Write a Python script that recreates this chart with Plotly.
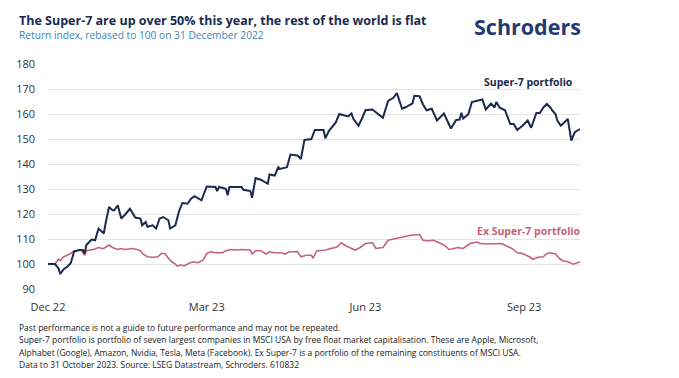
import pandas as pd
import plotly.graph_objects as go

# ---- data ----
base_date = "2022-12-30"
super7_days = [0, 4, 6, 7, 9, 11, 13, 15, 18, 20, 21, 22, 25, 27, 29, 32, 33, 35, 37, 38, 40, 42, 44, 47,
               50, 53, 54, 56, 57, 60, 62, 64, 66, 69, 70, 73, 75, 77, 80, 82, 84, 88, 91, 96, 97, 98,
               102, 103, 104, 111, 112, 116, 117, 119, 122, 126, 127, 130, 132, 133, 137, 139, 143, 145,
               147, 151, 153, 158, 159, 161, 165, 167, 172, 174, 175, 178, 180, 182, 186, 189, 192, 195,
               198, 200, 203, 205, 207, 209, 210, 213, 215, 217, 220, 223, 224, 227, 231, 234, 236, 237,
               238, 241, 243, 246, 249, 251, 254, 256, 257, 259, 262, 265, 267, 269, 272, 275, 277, 280,
               282, 284, 286, 288, 289, 291, 292, 294, 296, 298, 300, 302, 304, 305]
super7_values = [100.0, 100.0, 98.3, 96.0, 97.9, 98.9, 100.3, 105.0, 105.6, 105.6, 104.2, 107.6, 109.8,
                 109.5, 114.2, 112.2, 116.2, 122.8, 121.5, 121.5, 123.5, 118.2, 119.6, 122.1, 118.6,
                 118.2, 115.5, 116.8, 114.9, 115.5, 114.2, 118.2, 118.8, 117.5, 114.2, 115.5, 120.8,
                 124.4, 124.1, 126.1, 127.1, 125.5, 131.0, 130.8, 129.2, 130.8, 130.1, 127.5, 130.8,
                 130.8, 129.7, 129.2, 126.5, 134.4, 133.7, 132.1, 135.8, 135.4, 138.7, 138.0, 138.7,
                 143.8, 143.4, 142.0, 149.6, 150.0, 153.6, 153.6, 150.3, 153.2, 156.6, 160.0, 159.0,
                 160.2, 158.2, 155.3, 158.2, 161.5, 161.8, 160.2, 158.5, 165.2, 166.5, 168.4, 162.1,
                 162.7, 163.4, 164.3, 167.3, 167.1, 163.8, 161.5, 162.1, 157.4, 158.1, 160.2, 154.2,
                 157.6, 157.8, 160.5, 158.2, 159.9, 164.8, 165.2, 165.8, 161.8, 164.2, 162.6, 164.8,
                 162.5, 161.5, 156.0, 156.0, 153.6, 155.3, 157.4, 154.5, 160.4, 160.4, 162.6, 164.0,
                 162.6, 161.5, 159.9, 157.4, 155.3, 156.6, 158.0, 149.4, 152.7, 153.6, 154.0]

ex_days = [0, 4, 5, 6, 7, 9, 11, 13, 15, 19, 21, 22, 26, 29, 31, 32, 35, 37, 40, 42, 44, 48, 51, 53, 54,
           57, 60, 63, 65, 67, 69, 71, 73, 74, 76, 78, 80, 83, 86, 89, 91, 93, 96, 100, 102, 105, 109,
           111, 116, 117, 119, 122, 125, 127, 130, 134, 136, 138, 143, 145, 148, 151, 152, 154, 159, 163,
           166, 168, 171, 176, 179, 182, 186, 188, 192, 195, 200, 205, 208, 213, 215, 218, 221, 223, 227,
           230, 235, 238, 242, 246, 248, 252, 256, 260, 263, 266, 269, 272, 276, 278, 281, 284, 286, 288,
           291, 293, 295, 298, 301, 304, 305]
ex_values = [100.0, 100.0, 100.9, 101.9, 101.4, 102.9, 103.5, 104.2, 105.3, 105.6, 103.5, 105.3, 105.8,
             106.6, 106.2, 106.2, 107.6, 106.6, 105.8, 106.2, 105.8, 106.2, 105.8, 105.3, 104.2, 102.9,
             102.7, 102.9, 104.2, 104.2, 102.3, 100.9, 100.0, 99.2, 99.6, 99.2, 100.0, 100.9, 100.5,
             101.6, 104.2, 104.9, 104.5, 104.5, 105.3, 105.8, 105.6, 105.8, 105.6, 104.0, 105.3, 105.3,
             104.0, 104.9, 104.5, 104.5, 104.0, 104.8, 105.0, 102.9, 103.5, 103.5, 102.3, 105.2, 105.6,
             106.2, 106.9, 108.5, 107.2, 105.6, 106.6, 108.2, 108.5, 106.2, 106.6, 109.5, 110.2, 110.9,
             111.5, 111.8, 109.5, 109.3, 109.5, 108.9, 107.6, 105.8, 106.6, 106.2, 108.2, 108.8, 108.2,
             108.0, 108.2, 108.2, 107.2, 106.2, 104.5, 104.2, 102.9, 101.9, 102.7, 102.9, 104.2, 104.5,
             104.0, 102.3, 101.3, 100.9, 99.9, 100.5, 100.8]

tick_dates = ["2022-12-30", "2023-03-31", "2023-06-30", "2023-09-29"]
tick_labels = ["Dec 22", "Mar 23", "Jun 23", "Sep 23"]
y_ticks = [90, 100, 110, 120, 130, 140, 150, 160, 170, 180]

base = pd.Timestamp(base_date)
super7_dates = base + pd.to_timedelta(super7_days, unit="D")
ex_dates = base + pd.to_timedelta(ex_days, unit="D")

NAVY = "#1b2a4e"
PINK = "#c4627a"
FONT = "Open Sans"

# plot area in pixels
W, H = 679, 378
L, R, T, B = 48, 580, 64, 289


def px(x):
    return (x - L) / (R - L)


def py(y):
    return (B - y) / (B - T)


fig = go.Figure()
fig.add_trace(go.Scatter(x=ex_dates, y=ex_values, mode="lines",
                         line=dict(color=PINK, width=1.6), name="Ex Super-7 portfolio"))
fig.add_trace(go.Scatter(x=super7_dates, y=super7_values, mode="lines",
                         line=dict(color=NAVY, width=2), name="Super-7 portfolio"))

fig.update_layout(
    width=W, height=H,
    margin=dict(l=L, r=W - R, t=T, b=H - B, pad=0),
    paper_bgcolor="white", plot_bgcolor="white",
    showlegend=False,
    font=dict(family=FONT, color="#333333", size=11),
    xaxis=dict(range=["2022-12-30", "2023-10-31"], tickvals=tick_dates, ticktext=tick_labels,
               showgrid=False, zeroline=False, showline=False, ticks="",
               tickfont=dict(size=11, color="#333333"), ticklabelstandoff=10),
    yaxis=dict(range=[90, 180], tickvals=y_ticks, showgrid=True, gridcolor="#e3e3e3",
               gridwidth=1, zeroline=False, showline=False, ticks="",
               tickfont=dict(size=11, color="#333333"), ticklabelstandoff=12),
)

annos = [
    dict(x=px(17), y=py(20), text="<b>The Super-7 are up over 50% this year, the rest of the world is flat</b>",
         font=dict(size=12.5, color=NAVY)),
    dict(x=px(17), y=py(35), text="Return index, rebased to 100 on 31 December 2022",
         font=dict(size=10.2, color="#3a86b8")),
    dict(x=px(472), y=py(26), text="<b>Schroders</b>",
         font=dict(size=21.5, color="#1f3b70")),
    dict(x=px(482), y=py(82), text="<b>Super-7 portfolio</b>",
         font=dict(size=10.5, color=NAVY)),
    dict(x=px(475), y=py(231), text="<b>Ex Super-7 portfolio</b>",
         font=dict(size=10.5, color=PINK)),
]
foot = ["Past performance is not a guide to future performance and may not be repeated.",
        "Super-7 portfolio is portfolio of seven largest companies in MSCI USA by free float market capitalisation. These are Apple, Microsoft,",
        "Alphabet (Google), Amazon, Nvidia, Tesla, Meta (Facebook). Ex Super-7 is a portfolio of the remaining constituents of MSCI USA.",
        "Data to 31 October 2023. Source: LSEG Datastream, Schroders. 610832"]
for i, line in enumerate(foot):
    annos.append(dict(x=px(17), y=py(327 + i * 12.5), text=line,
                      font=dict(size=8.5, color="#222222")))

for a in annos:
    a.update(xref="paper", yref="paper", xanchor="left", yanchor="middle", showarrow=False)
    fig.add_annotation(**a)

fig.write_html("out.html", config={"displayModeBar": False},
               post_script="document.body.style.margin='0';")
